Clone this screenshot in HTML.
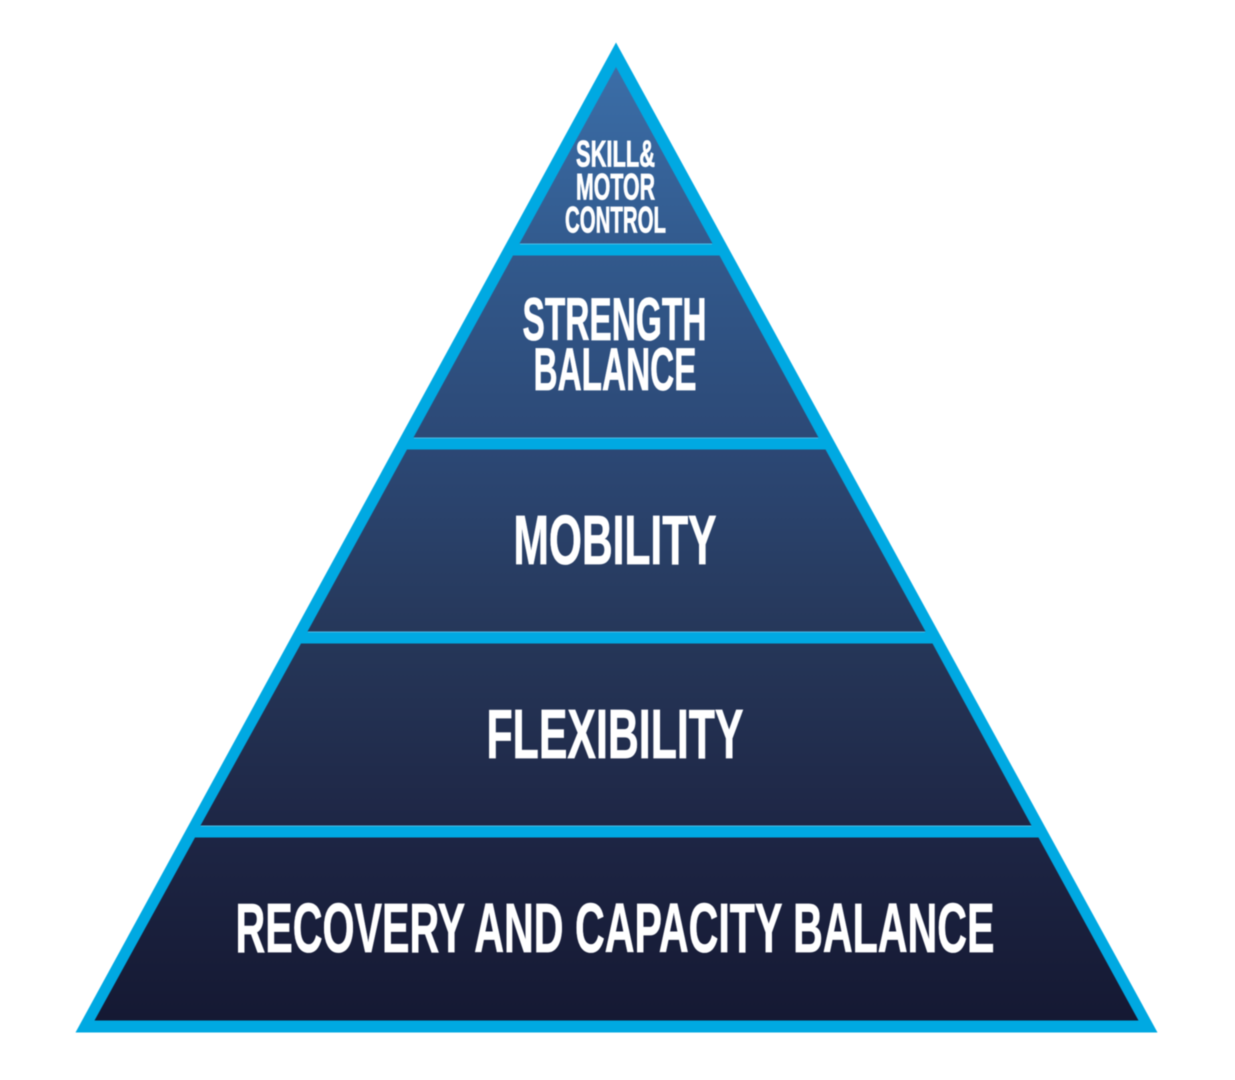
<!DOCTYPE html>
<html>
<head>
<meta charset="utf-8">
<style>
html,body{margin:0;padding:0;background:#fff;width:1235px;height:1080px;overflow:hidden}
svg{display:block;filter:blur(.5px)}
text{font-family:"Liberation Sans",sans-serif;font-weight:700;fill:#fff;stroke:#fff;stroke-width:.8px}
</style>
</head>
<body>
<svg width="1235" height="1080" viewBox="0 0 1235 1080" xmlns="http://www.w3.org/2000/svg">
<defs>
<linearGradient id="g" gradientUnits="userSpaceOnUse" x1="0" y1="67" x2="0" y2="1020">
<stop offset="0" stop-color="#3b6ea8"/>
<stop offset=".2" stop-color="#32598c"/>
<stop offset=".4" stop-color="#2c4875"/>
<stop offset=".6" stop-color="#263759"/>
<stop offset=".8" stop-color="#1e2645"/>
<stop offset="1" stop-color="#151933"/>
</linearGradient>
</defs>
<polygon points="616,42.5 1157.5,1032.5 75.5,1032.5" fill="#00a9e2"/>
<polygon points="616,67 712.5,243.5 519.5,243.5" fill="url(#g)"/>
<polygon points="513,255.5 719.5,255.5 818.5,437.5 413.5,437.5" fill="url(#g)"/>
<polygon points="407,449.5 825.5,449.5 925.5,631.5 307.5,631.5" fill="url(#g)"/>
<polygon points="301,643.5 932.5,643.5 1031.5,825.5 200.5,825.5" fill="url(#g)"/>
<polygon points="195,837.5 1038.5,837.5 1138.5,1020.5 94.5,1020.5" fill="url(#g)"/>
<g stroke="#7fcdee" stroke-width="1" opacity=".6">
<line x1="520" y1="244" x2="712" y2="244"/>
<line x1="414" y1="438" x2="818" y2="438"/>
<line x1="308" y1="632" x2="925" y2="632"/>
<line x1="201" y1="826" x2="1031" y2="826"/>
</g>
<text x="576" y="166.5" font-size="37.5" textLength="79" lengthAdjust="spacingAndGlyphs">SKILL&amp;</text>
<text x="576" y="199.5" font-size="37.5" textLength="79" lengthAdjust="spacingAndGlyphs">MOTOR</text>
<text x="565" y="232.5" font-size="37.5" textLength="101" lengthAdjust="spacingAndGlyphs">CONTROL</text>
<text x="522.5" y="340" font-size="60" textLength="184" lengthAdjust="spacingAndGlyphs">STRENGTH</text>
<text x="533.5" y="390" font-size="60" textLength="163" lengthAdjust="spacingAndGlyphs">BALANCE</text>
<text x="513.5" y="564" font-size="70" textLength="203" lengthAdjust="spacingAndGlyphs">MOBILITY</text>
<text x="486.5" y="758" font-size="70" textLength="257" lengthAdjust="spacingAndGlyphs">FLEXIBILITY</text>
<text x="235.5" y="952" font-size="70" textLength="759" lengthAdjust="spacingAndGlyphs">RECOVERY AND CAPACITY BALANCE</text>
</svg>
</body>
</html>
